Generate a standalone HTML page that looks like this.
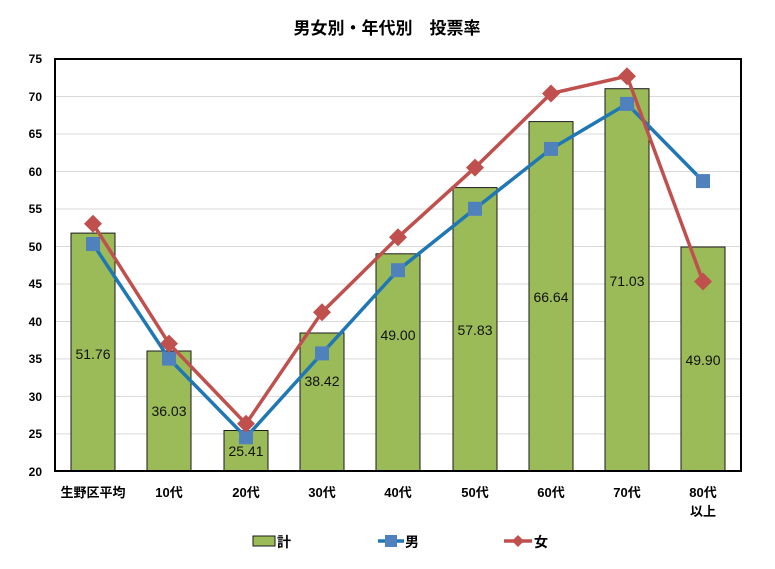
<!DOCTYPE html>
<html><head><meta charset="utf-8"><style>body{margin:0;background:#fff}svg{display:block}</style></head><body>
<svg width="775" height="569" viewBox="0 0 775 569" xmlns="http://www.w3.org/2000/svg" font-family="Liberation Sans, Noto Sans CJK JP, sans-serif">
<text x="387" y="34" text-anchor="middle" font-size="17" font-weight="bold" font-family="Noto Sans CJK JP, sans-serif">男女別・年代別　投票率</text>
<g stroke="#d9d9d9" stroke-width="1">
<line x1="55" x2="741" y1="96.5" y2="96.5"/><line x1="55" x2="741" y1="134" y2="134"/><line x1="55" x2="741" y1="171.5" y2="171.5"/><line x1="55" x2="741" y1="209" y2="209"/><line x1="55" x2="741" y1="246.5" y2="246.5"/><line x1="55" x2="741" y1="284" y2="284"/><line x1="55" x2="741" y1="321.5" y2="321.5"/><line x1="55" x2="741" y1="358.9" y2="358.9"/><line x1="55" x2="741" y1="396.4" y2="396.4"/><line x1="55" x2="741" y1="433.9" y2="433.9"/>
</g>
<g font-size="12" font-weight="bold" text-anchor="end">
<text x="42" y="63">75</text><text x="42" y="101">70</text><text x="42" y="138">65</text><text x="42" y="176">60</text><text x="42" y="213">55</text><text x="42" y="251">50</text><text x="42" y="288">45</text><text x="42" y="326">40</text><text x="42" y="363">35</text><text x="42" y="401">30</text><text x="42" y="438">25</text><text x="42" y="476">20</text>
</g>
<g fill="#9bbb59" stroke="#1a1a1a" stroke-width="1">
<rect x="71" y="233.1" width="44" height="237.9"/><rect x="147" y="351" width="44" height="120"/><rect x="224" y="430.5" width="44" height="40.5"/><rect x="300" y="333" width="44" height="138"/><rect x="376" y="253.8" width="44" height="217.2"/><rect x="453" y="187.6" width="44" height="283.4"/><rect x="529" y="121.6" width="44" height="349.4"/><rect x="605" y="88.7" width="44" height="382.3"/><rect x="681" y="247" width="44" height="224"/>
</g>
<rect x="55" y="59" width="686" height="412" fill="none" stroke="#000" stroke-width="2"/>
<g font-size="14" text-anchor="middle" fill="#111">
<text x="93" y="359">51.76</text><text x="169" y="416">36.03</text><text x="246" y="456">25.41</text><text x="322" y="386">38.42</text><text x="398" y="340">49.00</text><text x="475" y="335">57.83</text><text x="551" y="302">66.64</text><text x="627" y="286">71.03</text><text x="703" y="365">49.90</text>
</g>
<polyline fill="none" stroke="#1f77b4" stroke-width="3.5" points="93,244 169,358.6 246,437.3 322,353.4 398,270.2 475,208.8 551,148.9 627,103.9 703,181.1"/>
<g fill="#4f81bd">
<rect x="86" y="237" width="14" height="14"/><rect x="162" y="351.6" width="14" height="14"/><rect x="239" y="430.3" width="14" height="14"/><rect x="315" y="346.4" width="14" height="14"/><rect x="391" y="263.2" width="14" height="14"/><rect x="468" y="201.8" width="14" height="14"/><rect x="544" y="141.9" width="14" height="14"/><rect x="620" y="96.9" width="14" height="14"/><rect x="696" y="174.1" width="14" height="14"/>
</g>
<polyline fill="none" stroke="#c0504d" stroke-width="3.5" points="93,223.8 169,343.6 246,423.8 322,312.2 398,237.3 475,167.6 551,93.5 627,76.2 703,281.5"/>
<g fill="#c0504d">
<path d="M93,214.8l9,9l-9,9l-9,-9z"/><path d="M169,334.6l9,9l-9,9l-9,-9z"/><path d="M246,414.8l9,9l-9,9l-9,-9z"/><path d="M322,303.2l9,9l-9,9l-9,-9z"/><path d="M398,228.3l9,9l-9,9l-9,-9z"/><path d="M475,158.6l9,9l-9,9l-9,-9z"/><path d="M551,84.5l9,9l-9,9l-9,-9z"/><path d="M627,67.2l9,9l-9,9l-9,-9z"/><path d="M703,272.5l9,9l-9,9l-9,-9z"/>
</g>
<g font-size="13" font-weight="bold" text-anchor="middle" font-family="Liberation Sans, Noto Sans CJK JP, sans-serif">
<text x="93" y="497">生野区平均</text><text x="169" y="497">10代</text><text x="246" y="497">20代</text><text x="322" y="497">30代</text><text x="398" y="497">40代</text><text x="475" y="497">50代</text><text x="551" y="497">60代</text><text x="627" y="497">70代</text><text x="703" y="497">80代</text><text x="703" y="516">以上</text>
</g>
<rect x="253" y="536" width="22" height="10" fill="#9bbb59" stroke="#1a1a1a"/>
<text x="277" y="547" font-size="14" font-weight="bold" font-family="Noto Sans CJK JP, sans-serif">計</text>
<line x1="378" x2="404" y1="541" y2="541" stroke="#1f77b4" stroke-width="3.5"/><rect x="385" y="535" width="12" height="12" fill="#4f81bd"/>
<text x="405" y="547" font-size="14" font-weight="bold" font-family="Noto Sans CJK JP, sans-serif">男</text>
<line x1="504" x2="532" y1="541" y2="541" stroke="#c0504d" stroke-width="3.5"/><path d="M518,535l6,6l-6,6l-6,-6z" fill="#c0504d"/>
<text x="534" y="547" font-size="14" font-weight="bold" font-family="Noto Sans CJK JP, sans-serif">女</text>
</svg>
</body></html>
